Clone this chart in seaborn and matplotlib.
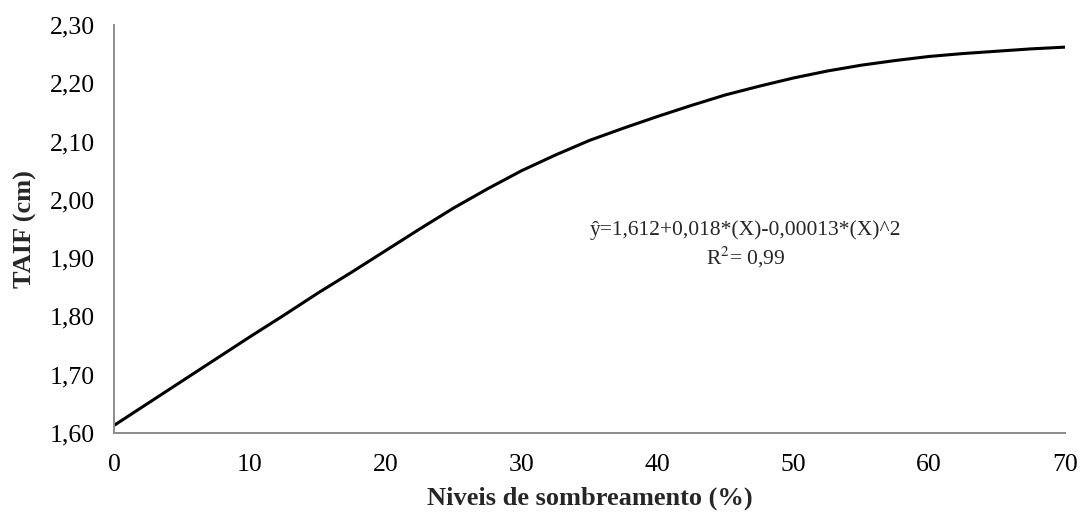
import numpy as np
import pandas as pd
import matplotlib
matplotlib.use("Agg")
import matplotlib.pyplot as plt
import seaborn as sns

# values (every 2.5 % of shading)
shading = [0, 2.5, 5, 7.5, 10, 12.5, 15, 17.5, 20, 22.5, 25, 27.5, 30, 32.5,
           35, 37.5, 40, 42.5, 45, 47.5, 50, 52.5, 55, 57.5, 60, 62.5, 65,
           67.5, 70]
taif = [1.613, 1.651, 1.689, 1.727, 1.765, 1.802, 1.840, 1.876, 1.913,
        1.950, 1.986, 2.019, 2.050, 2.077, 2.102, 2.123, 2.143, 2.162,
        2.180, 2.195, 2.209, 2.221, 2.231, 2.239, 2.246, 2.251, 2.255,
        2.259, 2.262]
x_ticks = [0, 10, 20, 30, 40, 50, 60, 70]
y_ticks = [1.60, 1.70, 1.80, 1.90, 2.00, 2.10, 2.20, 2.30]

df = pd.DataFrame({"shading": shading, "taif": taif})

sns.set_theme(style="white")
plt.rcParams['font.family'] = ['Liberation Serif', 'DejaVu Serif']
plt.rcParams['mathtext.fontset'] = 'stix'

fig = plt.figure(figsize=(10.81, 5.14), dpi=100)
ax = fig.add_axes([0.1055, 0.1576, 0.8797, 0.7938])

sns.lineplot(data=df, x="shading", y="taif", ax=ax, color="black",
             linewidth=2.2)

ax.set_xlim(0, 70)
ax.set_ylim(1.60, 2.30)
ax.set_xticks(x_ticks)
ax.set_yticks(y_ticks)
ax.set_xticklabels([str(v) for v in x_ticks])
ax.set_yticklabels([f"{v:.2f}".replace(".", ",") for v in y_ticks])

gray = "#8c8c8c"
for side in ["top", "right"]:
    ax.spines[side].set_visible(False)
for side in ["left", "bottom"]:
    ax.spines[side].set_color(gray)
    ax.spines[side].set_linewidth(1.4)
ax.tick_params(axis="both", which="major", direction="out", color=gray,
               width=1.2, labelsize=18.5, labelcolor="black")
ax.tick_params(axis="y", length=6, pad=8)
ax.tick_params(axis="x", length=5, pad=10)

ax.set_xlabel("Niveis de sombreamento (%)", fontsize=19, fontweight="bold",
              labelpad=8)
ax.set_ylabel("TAIF (cm)", fontsize=19, fontweight="bold", labelpad=9)

ax.text(46.5, 1.948, "ŷ=1,612+0,018*(X)-0,00013*(X)^2", fontsize=15.5,
        ha="center", va="center")
ax.text(46.5, 1.902, "R$^2$= 0,99", fontsize=15.5, ha="center", va="center")

fig.savefig("out.png", dpi=100)
